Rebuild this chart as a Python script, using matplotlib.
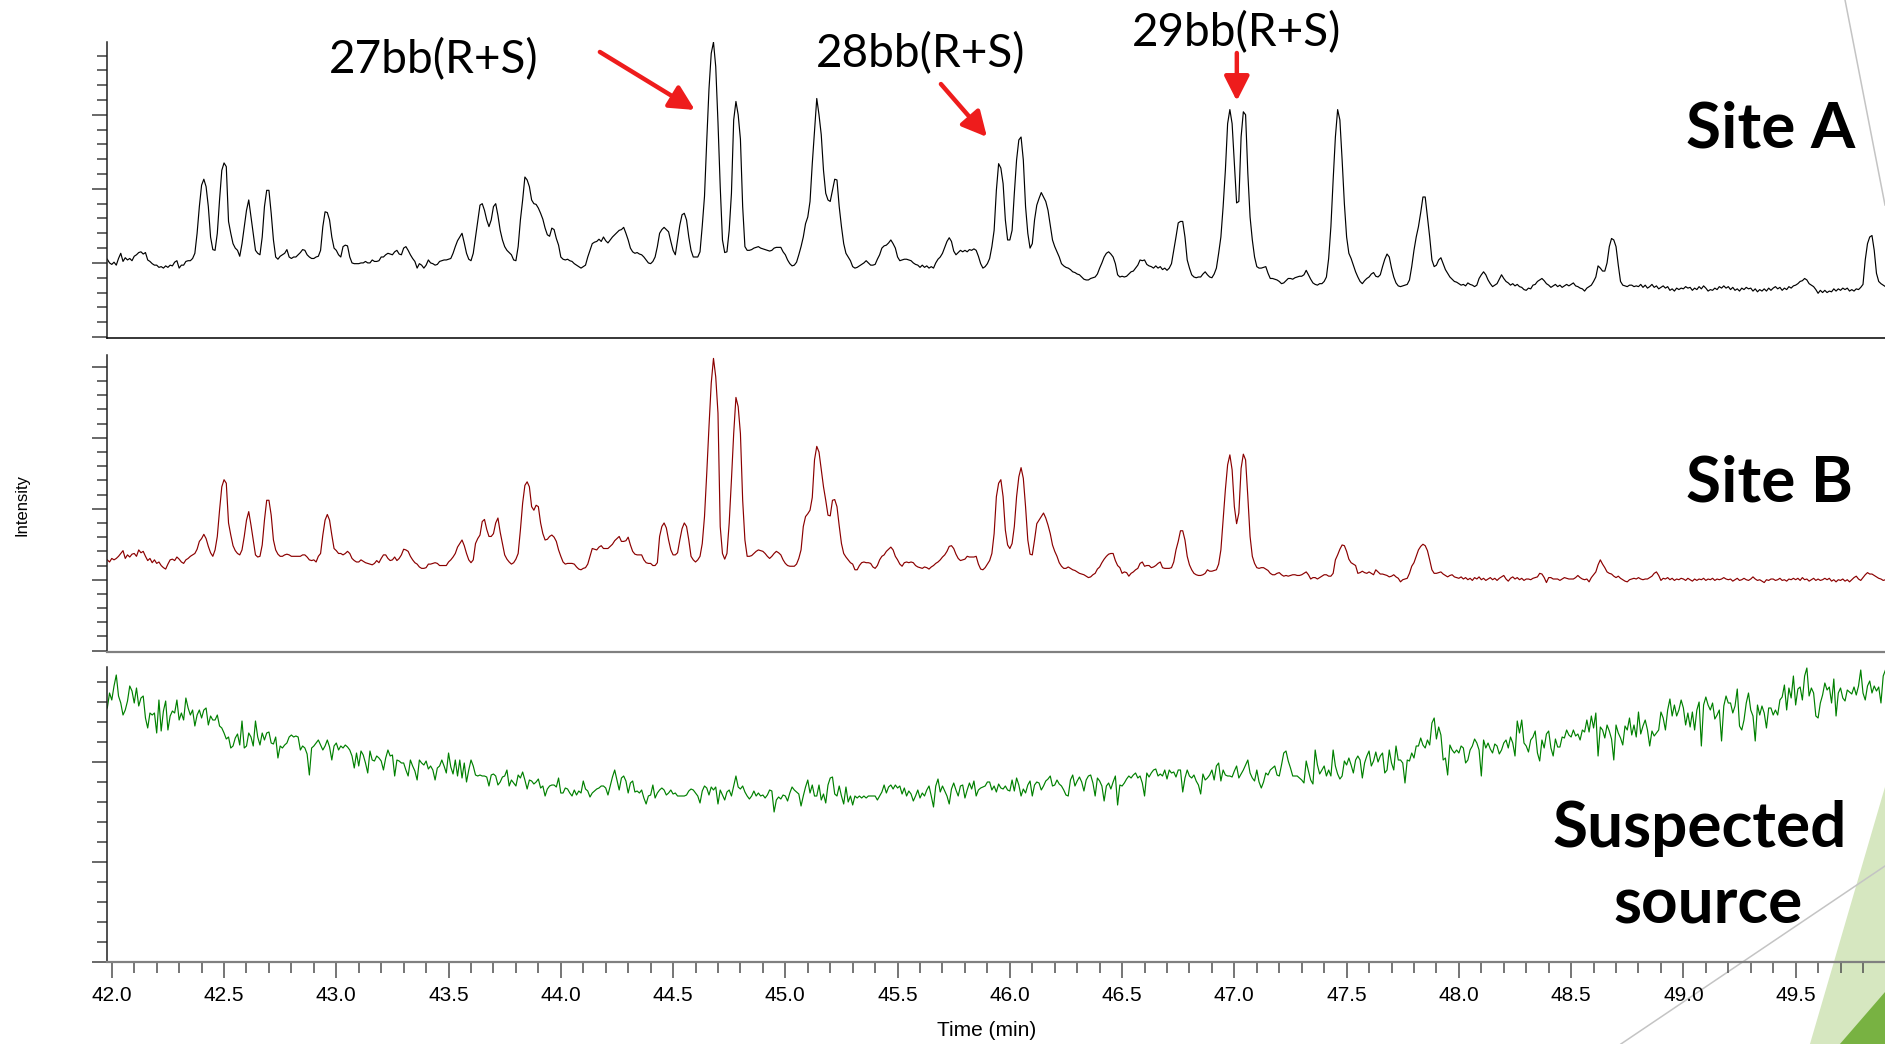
import numpy as np
import matplotlib.pyplot as plt
from matplotlib.ticker import MultipleLocator, FormatStrFormatter
from matplotlib.lines import Line2D
from matplotlib.patches import Polygon

plt.rcParams['font.family'] = ['Liberation Sans', 'DejaVu Sans']

# Traces were exported with one point every 0.01 min
t_start = 41.98
t_step = 0.01

# Intensities (arbitrary units), one row per 0.1 min from 42.0 min
site_a = [
    105, 100,
    98, 101, 97, 106, 113, 102, 107, 104, 106, 103,
    109, 111, 114, 115, 112, 114, 104, 102, 99, 97,
    97, 94, 95, 93, 96, 94, 97, 96, 101, 103,
    93, 97, 97, 102, 103, 103, 106, 113, 140, 176,
    205, 213, 203, 176, 135, 118, 117, 140, 185, 225,
    235, 230, 156, 140, 126, 120, 117, 109, 126, 149,
    171, 185, 162, 140, 117, 113, 111, 135, 176, 198,
    198, 167, 131, 108, 105, 109, 111, 113, 118, 108,
    106, 108, 108, 111, 114, 118, 117, 111, 108, 106,
    106, 108, 109, 117, 149, 169, 168, 158, 135, 120,
    117, 111, 108, 122, 124, 123, 108, 100, 99, 99,
    99, 100, 100, 102, 100, 100, 104, 102, 102, 103,
    108, 108, 111, 113, 112, 111, 115, 117, 112, 111,
    120, 122, 117, 111, 106, 102, 93, 99, 97, 93,
    97, 104, 100, 99, 97, 98, 102, 103, 104, 104,
    105, 106, 113, 122, 130, 135, 140, 127, 113, 105,
    103, 113, 135, 158, 178, 180, 171, 158, 149, 158,
    176, 180, 164, 144, 131, 122, 117, 114, 111, 104,
    103, 122, 158, 185, 216, 212, 203, 185, 180, 179,
    174, 167, 159, 147, 138, 136, 147, 145, 133, 124,
    108, 105, 104, 105, 103, 102, 99, 97, 95, 93,
    95, 97, 108, 117, 126, 128, 129, 132, 129, 135,
    130, 127, 131, 135, 138, 141, 144, 145, 148, 140,
    131, 120, 115, 113, 114, 112, 111, 108, 104, 100,
    99, 102, 108, 122, 140, 145, 148, 145, 142, 129,
    117, 111, 131, 151, 165, 167, 158, 135, 117, 108,
    108, 108, 115, 150, 190, 265, 335, 383, 398, 365,
    290, 203, 131, 114, 115, 144, 194, 293, 318, 300,
    267, 176, 122, 117, 117, 118, 120, 121, 122, 120,
    119, 118, 117, 116, 117, 120, 121, 121, 121, 115,
    111, 104, 99, 96, 97, 101, 111, 122, 135, 153,
    162, 183, 234, 279, 322, 300, 273, 225, 194, 185,
    183, 198, 213, 212, 176, 149, 126, 113, 108, 103,
    95, 93, 94, 96, 98, 100, 103, 100, 97, 97,
    98, 105, 111, 120, 123, 124, 127, 131, 126, 120,
    108, 103, 104, 105, 105, 104, 103, 100, 98, 97,
    94, 97, 94, 96, 93, 95, 93, 100, 105, 108,
    113, 121, 129, 134, 129, 116, 111, 114, 117, 115,
    117, 115, 118, 117, 119, 117, 109, 99, 93, 95,
    99, 106, 122, 144, 198, 234, 228, 207, 158, 131,
    131, 144, 194, 239, 266, 270, 239, 176, 140, 120,
    126, 158, 178, 187, 195, 189, 183, 171, 151, 131,
    122, 115, 108, 99, 96, 94, 93, 91, 88, 87,
    85, 84, 81, 78, 77, 77, 79, 80, 81, 85,
    93, 100, 108, 113, 115, 112, 108, 99, 84, 81,
    82, 81, 82, 85, 88, 89, 93, 97, 104, 103,
    104, 98, 96, 95, 93, 96, 93, 95, 91, 93,
    90, 93, 99, 117, 135, 154, 156, 156, 135, 104,
    93, 84, 81, 80, 81, 81, 85, 88, 84, 81,
    80, 85, 93, 113, 135, 176, 225, 288, 307, 288,
    234, 181, 183, 270, 304, 300, 221, 162, 131, 108,
    95, 93, 93, 94, 95, 86, 79, 79, 78, 77,
    75, 72, 73, 76, 79, 79, 78, 80, 81, 82,
    82, 84, 90, 84, 78, 73, 71, 70, 72, 72,
    75, 81, 106, 149, 212, 270, 307, 293, 239, 180,
    135, 113, 106, 97, 88, 81, 75, 72, 76, 79,
    81, 85, 87, 82, 81, 84, 95, 105, 112, 108,
    93, 81, 73, 69, 68, 69, 70, 71, 77, 95,
    117, 135, 149, 168, 189, 189, 162, 135, 104, 95,
    97, 104, 107, 99, 91, 86, 81, 78, 75, 74,
    72, 70, 71, 69, 73, 71, 70, 68, 70, 79,
    84, 88, 84, 77, 72, 68, 70, 72, 78, 84,
    79, 75, 73, 70, 72, 69, 71, 68, 67, 64,
    63, 66, 65, 70, 71, 75, 77, 79, 76, 72,
    70, 67, 69, 71, 68, 70, 67, 69, 71, 69,
    71, 73, 69, 68, 66, 65, 62, 66, 68, 70,
    75, 81, 96, 93, 89, 89, 100, 122, 133, 131,
    122, 97, 75, 70, 69, 68, 70, 70, 68, 69,
    68, 71, 67, 70, 66, 68, 71, 67, 69, 65,
    67, 69, 66, 68, 63, 65, 62, 66, 64, 66,
    65, 68, 66, 67, 63, 66, 64, 68, 65, 69,
    66, 62, 64, 63, 66, 64, 68, 66, 69, 66,
    68, 64, 67, 63, 65, 62, 66, 64, 67, 65,
    66, 62, 65, 61, 64, 62, 65, 62, 66, 63,
    66, 68, 65, 67, 63, 66, 64, 68, 66, 69,
    70, 72, 75, 76, 79, 77, 72, 70, 68, 64,
    59, 63, 60, 63, 60, 62, 61, 65, 62, 65,
    63, 66, 64, 66, 62, 64, 62, 65, 64, 67,
    71, 104, 126, 135, 137, 117, 86, 75, 72, 70,
    68,
]

site_b = [
    128, 125,
    130, 128, 130, 133, 137, 141, 130, 135, 132, 136,
    137, 133, 142, 138, 140, 133, 127, 130, 124, 128,
    123, 125, 120, 117, 115, 122, 128, 129, 127, 132,
    129, 125, 123, 128, 130, 133, 135, 137, 143, 154,
    158, 164, 158, 147, 138, 133, 142, 161, 198, 231,
    241, 236, 180, 163, 148, 141, 137, 135, 142, 161,
    184, 196, 177, 156, 135, 132, 133, 149, 184, 212,
    212, 191, 156, 142, 136, 133, 133, 135, 136, 135,
    133, 133, 133, 133, 133, 135, 135, 132, 128, 127,
    128, 125, 133, 137, 163, 184, 192, 184, 163, 144,
    141, 137, 137, 135, 137, 140, 137, 130, 127, 125,
    125, 128, 126, 124, 123, 122, 121, 123, 127, 124,
    130, 135, 135, 130, 127, 128, 132, 127, 130, 135,
    143, 142, 140, 133, 128, 124, 122, 118, 116, 116,
    117, 122, 122, 123, 124, 123, 120, 120, 120, 120,
    125, 128, 132, 137, 146, 151, 156, 148, 137, 128,
    124, 128, 151, 158, 163, 182, 185, 171, 161, 161,
    165, 180, 187, 167, 151, 135, 129, 125, 122, 124,
    129, 137, 170, 208, 233, 238, 231, 203, 198, 205,
    203, 180, 165, 156, 157, 161, 163, 160, 154, 142,
    133, 125, 122, 123, 123, 123, 122, 118, 115, 114,
    116, 117, 122, 133, 144, 143, 142, 146, 148, 144,
    144, 144, 147, 150, 155, 158, 161, 154, 154, 155,
    160, 149, 140, 136, 135, 135, 135, 128, 124, 123,
    123, 120, 120, 124, 161, 175, 180, 173, 156, 142,
    135, 135, 138, 156, 172, 180, 175, 156, 133, 128,
    125, 128, 133, 151, 189, 250, 316, 377, 412, 386,
    335, 175, 137, 129, 137, 180, 241, 306, 357, 344,
    306, 212, 156, 133, 133, 134, 137, 140, 142, 141,
    140, 137, 133, 130, 133, 137, 140, 138, 135, 128,
    123, 120, 119, 119, 119, 122, 130, 142, 175, 189,
    193, 198, 216, 269, 288, 280, 255, 231, 212, 191,
    190, 212, 213, 203, 176, 151, 137, 132, 128, 124,
    122, 114, 114, 120, 124, 125, 124, 124, 123, 118,
    116, 120, 128, 133, 135, 140, 143, 146, 142, 133,
    128, 122, 119, 124, 125, 124, 125, 124, 120, 118,
    117, 116, 118, 117, 115, 118, 120, 123, 125, 128,
    132, 135, 140, 147, 148, 144, 136, 130, 127, 128,
    129, 133, 132, 132, 132, 133, 122, 115, 114, 117,
    122, 127, 137, 165, 217, 236, 241, 217, 170, 149,
    144, 151, 175, 217, 245, 258, 243, 203, 156, 136,
    135, 156, 179, 184, 189, 194, 187, 177, 165, 149,
    140, 133, 124, 119, 116, 116, 118, 116, 114, 113,
    111, 109, 108, 107, 105, 103, 104, 107, 109, 115,
    118, 124, 129, 133, 136, 137, 137, 127, 120, 117,
    109, 111, 110, 105, 109, 111, 114, 116, 123, 125,
    119, 120, 120, 117, 118, 120, 123, 125, 117, 116,
    116, 116, 117, 125, 142, 154, 169, 169, 156, 133,
    121, 114, 109, 107, 106, 106, 107, 109, 114, 112,
    112, 113, 114, 122, 142, 184, 227, 262, 276, 255,
    203, 179, 194, 257, 277, 269, 217, 161, 133, 123,
    117, 116, 117, 117, 115, 113, 109, 107, 107, 109,
    110, 107, 105, 106, 105, 106, 107, 107, 106, 106,
    107, 109, 111, 107, 101, 103, 103, 101, 103, 105,
    107, 107, 105, 105, 109, 128, 135, 143, 149, 148,
    140, 129, 124, 122, 120, 109, 110, 112, 110, 109,
    111, 109, 107, 114, 111, 108, 108, 107, 106, 104,
    105, 107, 104, 102, 97, 100, 101, 102, 109, 119,
    124, 133, 142, 147, 150, 148, 141, 128, 114, 109,
    109, 110, 111, 108, 106, 104, 106, 107, 104, 103,
    102, 104, 101, 103, 100, 102, 99, 103, 101, 104,
    100, 102, 99, 101, 103, 100, 102, 99, 102, 104,
    106, 101, 98, 102, 104, 101, 103, 100, 102, 99,
    101, 101, 100, 102, 103, 104, 109, 108, 103, 96,
    103, 103, 101, 101, 101, 99, 101, 103, 102, 101,
    101, 101, 103, 106, 103, 101, 100, 101, 97, 103,
    107, 111, 121, 128, 122, 117, 111, 109, 108, 105,
    103, 105, 102, 100, 98, 97, 100, 101, 102, 101,
    103, 101, 100, 101, 101, 103, 105, 109, 111, 106,
    99, 102, 101, 103, 100, 102, 99, 101, 100, 102,
    101, 99, 102, 100, 98, 101, 99, 101, 100, 102,
    99, 101, 100, 102, 99, 101, 100, 101, 103, 101,
    100, 101, 98, 100, 102, 99, 100, 102, 100, 99,
    101, 104, 101, 99, 100, 98, 96, 100, 99, 101,
    101, 99, 100, 102, 99, 100, 98, 101, 100, 102,
    100, 102, 99, 103, 100, 101, 98, 100, 102, 99,
    101, 99, 100, 102, 100, 102, 98, 100, 97, 100,
    99, 101, 98, 100, 97, 100, 103, 105, 101, 99,
    103, 107, 110, 108, 108, 106, 104, 102, 101, 99,
    100,
]

source = [
    254, 269,
    262, 276, 287, 266, 259, 247, 252, 261, 276, 271,
    259, 274, 256, 264, 266, 244, 234, 249, 247, 249,
    229, 262, 231, 251, 261, 232, 246, 251, 249, 262,
    242, 249, 242, 264, 254, 247, 252, 236, 247, 252,
    244, 252, 254, 237, 246, 242, 242, 247, 236, 234,
    229, 223, 225, 214, 216, 224, 228, 217, 241, 214,
    216, 229, 225, 216, 241, 225, 217, 229, 222, 229,
    230, 219, 218, 225, 204, 216, 214, 217, 219, 225,
    227, 225, 226, 225, 212, 216, 214, 208, 187, 214,
    216, 219, 222, 217, 212, 216, 222, 215, 202, 216,
    219, 212, 216, 214, 217, 215, 212, 206, 194, 209,
    196, 211, 207, 199, 189, 211, 202, 201, 206, 204,
    201, 192, 204, 212, 206, 207, 186, 202, 201, 199,
    199, 192, 186, 202, 196, 191, 182, 202, 199, 197,
    201, 193, 196, 192, 182, 194, 196, 202, 196, 189,
    209, 195, 188, 202, 186, 202, 184, 199, 180, 192,
    202, 196, 187, 186, 187, 186, 186, 185, 176, 187,
    188, 186, 177, 180, 185, 186, 192, 176, 182, 179,
    176, 187, 184, 190, 182, 173, 182, 181, 178, 180,
    183, 174, 176, 166, 173, 176, 177, 177, 175, 184,
    169, 169, 174, 173, 169, 166, 172, 167, 171, 169,
    181, 173, 171, 165, 169, 171, 173, 174, 176, 176,
    174, 167, 176, 185, 192, 182, 172, 184, 186, 181,
    169, 179, 181, 170, 171, 169, 172, 164, 158, 166,
    167, 177, 164, 169, 172, 174, 172, 167, 169, 172,
    168, 169, 166, 166, 166, 166, 167, 171, 173, 172,
    169, 166, 159, 171, 176, 174, 167, 175, 172, 175,
    158, 172, 167, 162, 170, 172, 166, 176, 186, 175,
    173, 176, 170, 166, 163, 166, 171, 166, 169, 166,
    167, 164, 167, 172, 171, 150, 162, 165, 163, 167,
    166, 161, 169, 175, 172, 170, 168, 156, 166, 175,
    182, 169, 177, 166, 166, 177, 162, 168, 159, 177,
    184, 185, 168, 166, 176, 166, 158, 175, 160, 166,
    157, 166, 164, 166, 164, 166, 164, 166, 166, 166,
    166, 162, 166, 170, 177, 169, 175, 177, 173, 177,
    174, 176, 168, 174, 166, 171, 168, 161, 166, 172,
    164, 169, 166, 172, 176, 166, 155, 176, 183, 170,
    176, 171, 166, 158, 173, 179, 172, 166, 176, 177,
    164, 172, 179, 173, 181, 166, 172, 174, 175, 176,
    180, 180, 172, 176, 170, 178, 174, 173, 176, 172,
    171, 182, 171, 184, 177, 166, 173, 169, 177, 181,
    166, 177, 180, 179, 172, 176, 181, 183, 186, 176,
    177, 182, 178, 176, 172, 167, 166, 182, 187, 176,
    181, 185, 180, 171, 182, 186, 187, 179, 166, 184,
    181, 176, 161, 176, 179, 173, 180, 186, 157, 177,
    176, 179, 183, 186, 184, 187, 189, 184, 186, 179,
    166, 189, 185, 189, 192, 193, 186, 188, 186, 192,
    183, 192, 189, 190, 185, 192, 192, 170, 184, 192,
    186, 184, 187, 181, 177, 168, 188, 182, 184, 187,
    192, 182, 196, 199, 181, 192, 187, 186, 186, 185,
    191, 196, 184, 188, 192, 197, 202, 189, 184, 181,
    192, 180, 174, 180, 189, 187, 192, 194, 196, 187,
    186, 197, 209, 211, 201, 194, 186, 186, 186, 184,
    182, 179, 201, 191, 182, 178, 212, 197, 188, 192,
    196, 186, 192, 186, 212, 196, 188, 183, 186, 201,
    197, 204, 197, 189, 202, 206, 202, 184, 199, 206,
    211, 196, 201, 210, 200, 206, 209, 189, 192, 212,
    199, 192, 216, 202, 202, 199, 179, 202, 201, 209,
    204, 216, 216, 224, 217, 214, 222, 217, 239, 244,
    223, 235, 227, 202, 204, 187, 217, 212, 209, 212,
    209, 216, 214, 199, 202, 212, 216, 223, 219, 212,
    186, 222, 214, 219, 213, 209, 218, 216, 208, 212,
    219, 222, 214, 225, 219, 206, 241, 229, 242, 219,
    216, 210, 222, 225, 231, 209, 201, 222, 214, 228,
    231, 214, 206, 223, 215, 215, 225, 224, 232, 227,
    225, 232, 226, 228, 222, 232, 230, 242, 230, 246,
    234, 249, 206, 235, 232, 224, 237, 231, 223, 202,
    237, 229, 224, 217, 236, 232, 244, 227, 237, 225,
    250, 228, 236, 242, 232, 216, 231, 226, 229, 232,
    250, 244, 232, 252, 263, 246, 257, 246, 252, 262,
    254, 237, 249, 235, 250, 232, 252, 260, 216, 257,
    265, 257, 252, 259, 243, 247, 252, 221, 256, 266,
    259, 259, 249, 256, 273, 236, 232, 242, 259, 269,
    252, 246, 221, 257, 247, 256, 249, 234, 254, 254,
    247, 252, 247, 262, 265, 277, 252, 274, 264, 286,
    257, 273, 275, 262, 286, 294, 266, 274, 269, 246,
    244, 259, 267, 279, 272, 275, 259, 283, 246, 269,
    274, 264, 261, 272, 270, 268, 275, 267, 276, 292,
    269, 262, 276, 281, 269, 276, 271, 275, 259, 286,
    292,
]

trace_colors = ['#000000', '#8b0000', '#008000']
peak_names = ['27bb(R+S)', '28bb(R+S)', '29bb(R+S)']
label_font = ['Lato', 'DejaVu Sans']
arrow_red = '#ee1c1c'


def times_for(values):
    return t_start + t_step * np.arange(len(values))


def style_panel(ax, ylim, bottom_color, bottom_lw):
    ax.set_facecolor('none')
    ax.set_xlim(41.98, 49.898)
    ax.set_ylim(*ylim)
    ax.spines['top'].set_visible(False)
    ax.spines['right'].set_visible(False)
    ax.spines['left'].set_color('#202020')
    ax.spines['left'].set_linewidth(1.1)
    ax.spines['bottom'].set_color(bottom_color)
    ax.spines['bottom'].set_linewidth(bottom_lw)
    ax.yaxis.set_major_locator(MultipleLocator(100))
    ax.yaxis.set_minor_locator(MultipleLocator(20))
    ax.tick_params(axis='y', which='major', direction='out', length=11,
                   width=1.1, color='#404040', labelleft=False)
    ax.tick_params(axis='y', which='minor', direction='out', length=7.5,
                   width=1.1, color='#404040')


def draw_chromatograms():
    fig = plt.figure(figsize=(18.85, 10.44), dpi=100)

    # slide decoration in the lower right corner
    fig.add_artist(Polygon([[0.9602, 0.0], [1.0, 0.2462], [1.0, 0.0]],
                           closed=True, transform=fig.transFigure,
                           facecolor='#d6e7c0', edgecolor='none', zorder=-3))
    fig.add_artist(Polygon([[0.9761, 0.0], [1.0, 0.0498], [1.0, 0.0]],
                           closed=True, transform=fig.transFigure,
                           facecolor='#78b242', edgecolor='none', zorder=-2))
    fig.add_artist(Line2D([0.8599, 1.0], [0.0, 0.1705], transform=fig.transFigure,
                          color='#c4c4c4', lw=1.1, zorder=-1))
    fig.add_artist(Line2D([0.9788, 1.0], [1.0, 0.8036], transform=fig.transFigure,
                          color='#c4c4c4', lw=1.1, zorder=-1))

    ax1 = fig.add_axes([0.05692, 0.67625, 0.94308, 0.28352])
    ax2 = fig.add_axes([0.05692, 0.37548, 0.94308, 0.28448])
    ax3 = fig.add_axes([0.05692, 0.07854, 0.94308, 0.28257])

    style_panel(ax1, (-1.35, 398.25), '#000000', 1.1)
    style_panel(ax2, (-1.9, 416.8), '#808080', 1.6)
    style_panel(ax3, (0, 295), '#808080', 1.6)

    for ax, values, color in zip([ax1, ax2, ax3], [site_a, site_b, source], trace_colors):
        ax.plot(times_for(values), values, color=color, lw=0.85)

    for ax in (ax1, ax2):
        ax.set_xticks([])

    ax3.xaxis.set_major_locator(MultipleLocator(0.5))
    ax3.xaxis.set_minor_locator(MultipleLocator(0.1))
    ax3.xaxis.set_major_formatter(FormatStrFormatter('%.1f'))
    ax3.tick_params(axis='x', which='major', direction='out', length=11.5,
                    width=1.1, color='#505050', pad=6, labelsize=15)
    ax3.tick_params(axis='x', which='minor', direction='out', length=8,
                    width=1.1, color='#505050')

    # peak identification
    ax1.text(43.435, 356.4, peak_names[0], ha='center', va='baseline',
             fontsize=33, family=label_font, clip_on=False)
    ax1.text(45.602, 364.5, peak_names[1], ha='center', va='baseline',
             fontsize=33, family=label_font, clip_on=False)
    ax1.text(47.009, 392.9, peak_names[2], ha='center', va='baseline',
             fontsize=33, family=label_font, clip_on=False)

    arrow = dict(arrowstyle='-|>,head_length=0.75,head_width=0.38', color=arrow_red,
                 lw=3.2, mutation_scale=20, shrinkA=0, shrinkB=0)
    ax1.annotate('', xy=(44.597, 306.5), xytext=(44.174, 384.8), arrowprops=arrow)
    ax1.annotate('', xy=(45.898, 270.0), xytext=(45.693, 341.5), arrowprops=arrow)
    ax1.annotate('', xy=(47.011, 318.6), xytext=(47.011, 383.4), arrowprops=arrow)

    # sample names
    ax1.text(0.9359, 0.643, 'Site A', transform=ax1.transAxes, ha='center',
             va='baseline', fontsize=46, fontweight='bold', family=label_font)
    ax2.text(0.9348, 0.506, 'Site B', transform=ax2.transAxes, ha='center',
             va='baseline', fontsize=46, fontweight='bold', family=label_font)
    ax3.text(0.8959, 0.391, 'Suspected', transform=ax3.transAxes, ha='center',
             va='baseline', fontsize=46, fontweight='bold', family=label_font)
    ax3.text(0.9004, 0.129, 'source', transform=ax3.transAxes, ha='center',
             va='baseline', fontsize=46, fontweight='bold', family=label_font)

    fig.text(0.0117, 0.5163, 'Intensity', rotation=90, ha='center', va='center', fontsize=12)
    fig.text(0.5236, 0.0134, 'Time (min)', ha='center', va='center', fontsize=15)

    fig.savefig('out.png', dpi=100)


if __name__ == "__main__":
    draw_chromatograms()
